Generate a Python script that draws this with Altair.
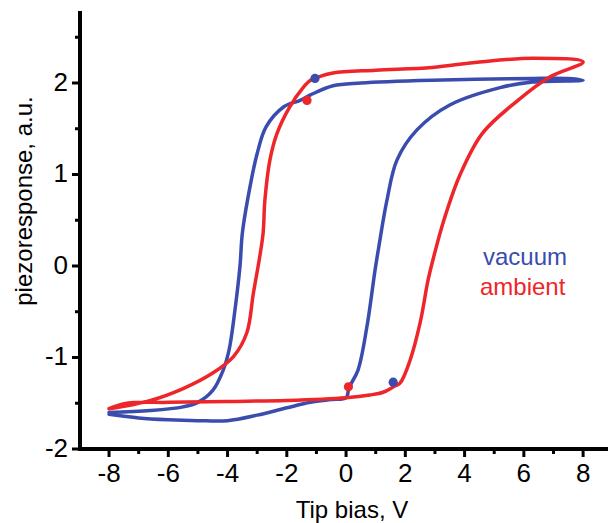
import altair as alt
import pandas as pd

# ---- data ----
vac_x = [-8.0, -7.0, -6.0, -5.0, -4.0, -3.0, -2.0, -1.2, -0.5, 0.0, 0.1, 0.4, 0.7, 0.98, 1.1, 1.38, 1.72, 2.4, 3.5, 5.2, 6.3, 8.0,
         7.5, 6.3, 2.9, 0.5, -0.44, -1.2, -1.55, -2.1, -2.7, -3.0, -3.24, -3.5, -3.58, -3.75, -3.95, -4.15, -4.5, -5.0, -5.5, -6.6, -8.0]
vac_y = [-1.62, -1.66, -1.68, -1.69, -1.69, -1.63, -1.55, -1.49, -1.46, -1.44, -1.33, -1.14, -0.67, -0.04, 0.2, 0.72, 1.16, 1.49, 1.76, 1.95, 2.01, 2.03,
         2.05, 2.05, 2.03, 2.0, 1.97, 1.87, 1.81, 1.74, 1.52, 1.23, 0.87, 0.36, 0.0, -0.48, -0.92, -1.14, -1.36, -1.49, -1.54, -1.58, -1.6]

amb_x = [-8.0, -7.4, -6.0, -4.0, -2.0, 0.0, 0.8, 1.25, 1.6, 1.82, 2.16, 2.5, 2.77, 2.95, 3.3, 3.85, 4.6, 5.8, 6.9, 8.0,
         6.3, 4.5, 2.9, 1.0, -0.44, -0.9, -1.2, -1.45, -1.9, -2.33, -2.57, -2.74, -2.8, -2.93, -3.13, -3.35, -3.8, -4.5, -5.5, -6.6, -8.0]
amb_y = [-1.56, -1.50, -1.49, -1.48, -1.47, -1.44, -1.41, -1.38, -1.32, -1.28, -1.03, -0.62, -0.15, 0.09, 0.5, 1.0, 1.45, 1.81, 2.07, 2.23,
         2.27, 2.23, 2.17, 2.14, 2.11, 2.07, 2.03, 1.95, 1.74, 1.45, 1.16, 0.72, 0.36, 0.07, -0.3, -0.73, -0.99, -1.17, -1.34, -1.47, -1.56]

dot_x = [-1.05, 1.59, -1.32, 0.08]
dot_y = [2.05, -1.27, 1.81, -1.32]
dot_series = ["vacuum", "vacuum", "ambient", "ambient"]

label_text = ["vacuum", "ambient"]
label_x = [4.62, 4.52]
label_y = [0.01, -0.32]

series_names = ["vacuum", "ambient"]
series_colors = ["#3a4cae", "#ee2529"]

x_major = [-8, -6, -4, -2, 0, 2, 4, 6, 8]
x_major_labels = ["-8", "-6", "-4", "-2", "0", "2", "4", "6", "8"]
x_minor = [-7, -5, -3, -1, 1, 3, 5, 7]
y_major = [-2, -1, 0, 1, 2]
y_major_labels = ["-2", "-1", "0", "1", "2"]
y_minor = [-1.5, -0.5, 0.5, 1.5, 2.5]

x_title = "Tip bias, V"
y_title = "piezoresponse, a.u."

# ---- tables ----
rows = []
for i, (xv, yv) in enumerate(zip(vac_x, vac_y)):
    rows.append({"x": xv, "y": yv, "series": "vacuum", "i": i})
for i, (xv, yv) in enumerate(zip(amb_x, amb_y)):
    rows.append({"x": xv, "y": yv, "series": "ambient", "i": i})
lines_df = pd.DataFrame(rows)
dots_df = pd.DataFrame({"x": dot_x, "y": dot_y, "series": dot_series})
labels_df = pd.DataFrame({"x": label_x, "y": label_y, "series": label_text, "text": label_text})
xt_major = pd.DataFrame({"v": x_major, "t": x_major_labels})
xt_minor = pd.DataFrame({"v": x_minor})
yt_major = pd.DataFrame({"v": y_major, "t": y_major_labels})
yt_minor = pd.DataFrame({"v": y_minor})
one = pd.DataFrame({"xt": [x_title], "yt": [y_title]})

color = alt.Color("series:N", scale=alt.Scale(domain=series_names, range=series_colors), legend=None)

xscale = alt.Scale(domain=[-8.98, 8.84], nice=False, zero=False)
yscale = alt.Scale(domain=[-2, 2.765], nice=False, zero=False)

FONT = "Liberation Sans"
W, H = 528, 436


def X(f):
    return alt.X(f, scale=xscale, axis=None)


def Y(f):
    return alt.Y(f, scale=yscale, axis=None)


lines = alt.Chart(lines_df).mark_line(
    strokeWidth=3.5, strokeJoin="round", strokeCap="round", interpolate="catmull-rom"
).encode(x=X("x:Q"), y=Y("y:Q"), color=color, order="i:Q", detail="series:N")

# axis lines
x_domain = alt.Chart(one).mark_rule(color="black", strokeWidth=4, strokeCap="square").encode(
    x=alt.value(0), x2=alt.value(W), y=alt.value(H))
y_domain = alt.Chart(one).mark_rule(color="black", strokeWidth=4, strokeCap="square").encode(
    x=alt.value(0), y=alt.value(0), y2=alt.value(H))

# tick marks from the tick-value lists
x_major_ticks = alt.Chart(xt_major).mark_rule(color="black", strokeWidth=3).encode(
    x=X("v:Q"), y=alt.value(H), y2=alt.value(H + 8))
x_minor_ticks = alt.Chart(xt_minor).mark_rule(color="black", strokeWidth=3).encode(
    x=X("v:Q"), y=alt.value(H), y2=alt.value(H + 5))
y_major_ticks = alt.Chart(yt_major).mark_rule(color="black", strokeWidth=3).encode(
    y=Y("v:Q"), x=alt.value(0), x2=alt.value(-8))
y_minor_ticks = alt.Chart(yt_minor).mark_rule(color="black", strokeWidth=3).encode(
    y=Y("v:Q"), x=alt.value(0), x2=alt.value(-5))

# tick labels
x_labels = alt.Chart(xt_major).mark_text(
    font=FONT, fontSize=26, color="black", align="center", baseline="top"
).encode(x=X("v:Q"), y=alt.value(H + 12), text="t:N")
y_labels = alt.Chart(yt_major).mark_text(
    font=FONT, fontSize=26, color="black", align="right", baseline="middle"
).encode(y=Y("v:Q"), x=alt.value(-12), text="t:N")

# axis titles
x_title_mark = alt.Chart(one).mark_text(
    font=FONT, fontSize=24, color="black", align="center", baseline="alphabetic"
).encode(x=alt.value(272), y=alt.value(H + 69), text="xt:N")
y_title_mark = alt.Chart(one).mark_text(
    font=FONT, fontSize=24, color="black", align="center", baseline="middle", angle=270
).encode(x=alt.value(-55), y=alt.value(188), text="yt:N")

dots = alt.Chart(dots_df).mark_circle(size=85, opacity=1).encode(x=X("x:Q"), y=Y("y:Q"), color=color)
texts = alt.Chart(labels_df).mark_text(align="left", baseline="alphabetic", fontSize=24, font=FONT).encode(
    x=X("x:Q"), y=Y("y:Q"), text="text:N", color=color
)

chart = alt.layer(
    lines, x_domain, y_domain, x_major_ticks, x_minor_ticks, y_major_ticks, y_minor_ticks,
    x_labels, y_labels, x_title_mark, y_title_mark, dots, texts
).properties(
    width=W, height=H,
    autosize=alt.AutoSizeParams(type="none"),
    padding={"left": 80, "top": 13, "right": 0, "bottom": 74},
    background="white",
).configure_view(stroke=None)

chart.save("out.html", embed_options={"renderer": "svg", "actions": False})
